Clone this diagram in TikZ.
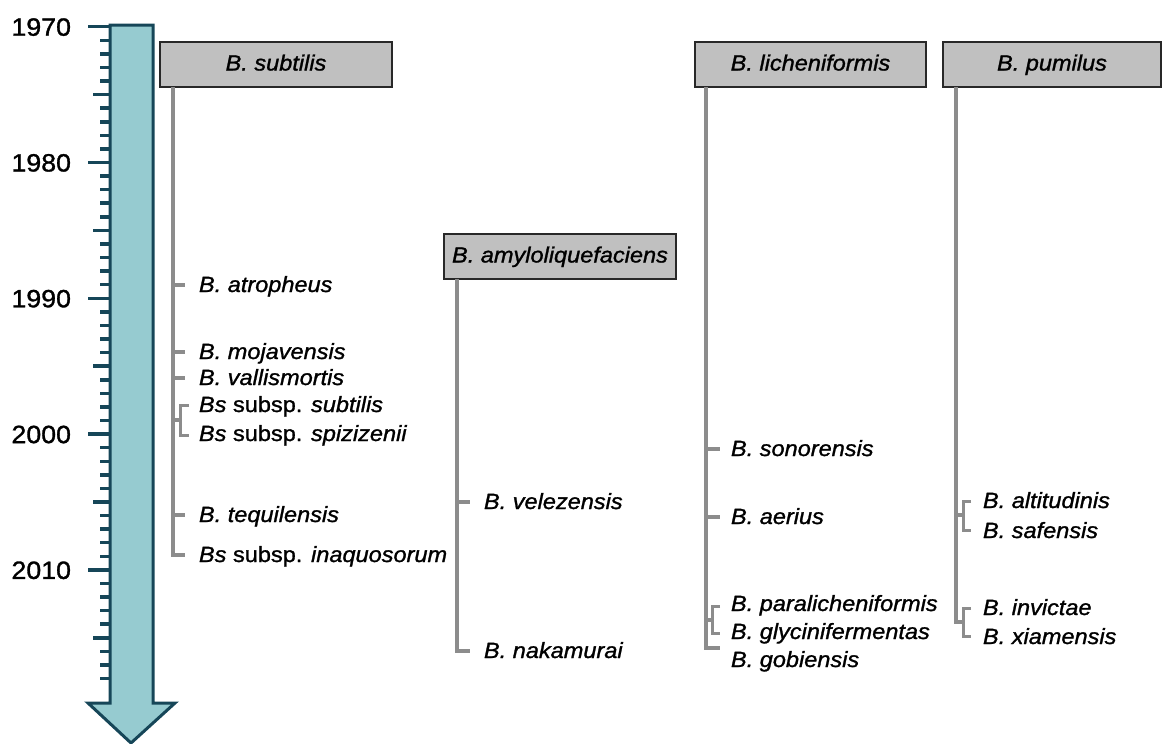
\documentclass[tikz,border=0pt]{standalone}
\usepackage{fontspec}
\setmainfont{Liberation Sans}[FakeStretch=1.07,FakeBold=1.2]
\begin{document}
\begin{tikzpicture}[x=1pt,y=-1pt,
  every node/.style={inner sep=0pt, outer sep=0pt},
  yearlbl/.style={anchor=east, font=\fontsize{25}{30}\selectfont, text height=18pt, text depth=0pt},
  spname/.style={anchor=west, font=\fontsize{22}{26}\selectfont\itshape, text height=16pt, text depth=4pt},
  groupbox/.style={draw=boxline, fill=boxfill, line width=2pt, minimum height=45pt, text height=16pt, text depth=4pt, font=\fontsize{22}{26}\selectfont\itshape},
  lineage/.style={draw=linegray, line width=3.5pt},
  bracketline/.style={draw=linegray, line width=3pt},
  ticklong/.style={draw=teal2, line width=3.5pt},
]
\definecolor{teal1}{RGB}{150,203,208}
\definecolor{teal2}{RGB}{22,70,88}
\definecolor{linegray}{RGB}{140,140,140}
\definecolor{boxfill}{RGB}{192,192,192}
\definecolor{boxline}{RGB}{40,40,40}
\useasboundingbox (0,0) rectangle (1163,744);

% time arrow
\draw[draw=teal2, fill=teal1, line width=3pt, line join=miter]
  (110,25) -- (153,25) -- (153,703) -- (175,703) -- (131,743) -- (88,703) -- (110,703) -- cycle;
\foreach \n in {0,...,48}{
  \pgfmathsetmacro{\yy}{26.7+13.58*\n}
  \pgfmathtruncatemacro{\md}{mod(\n,10)}
  \pgfmathtruncatemacro{\mf}{mod(\n,5)}
  \ifnum\md=0
    \draw[ticklong] (88,\yy) -- (110,\yy);
  \else\ifnum\mf=0
    \draw[ticklong] (93,\yy) -- (110,\yy);
  \else
    \draw[ticklong] (100,\yy) -- (110,\yy);
  \fi\fi
}
\node[yearlbl] (y1970) at (71,26.7) {1970};
\node[yearlbl] (y1980) at (71,162.5) {1980};
\node[yearlbl] (y1990) at (71,298.3) {1990};
\node[yearlbl] (y2000) at (71,434.1) {2000};
\node[yearlbl] (y2010) at (71,569.9) {2010};

% group boxes
\node[groupbox, minimum width=232pt] (subtilis) at (276,64.5) {B. subtilis};
\node[groupbox, minimum width=231pt] (lichen) at (810.5,64.5) {B. licheniformis};
\node[groupbox, minimum width=218pt] (pumilus) at (1052,64.5) {B. pumilus};
\node[groupbox, minimum width=232pt] (amylo) at (560,256.5) {B. amyloliquefaciens};

% ---------- B. subtilis group ----------
\node[spname] (atro) at (199,286) {B. atropheus};
\node[spname] (moja) at (199,353) {B. mojavensis};
\node[spname] (valli) at (199,379) {B. vallismortis};
\node[spname] (bssub) at (199,406) {Bs\upshape{} subsp. \itshape subtilis};
\node[spname] (bsspi) at (199,435) {Bs\upshape{} subsp. \itshape spizizenii};
\node[spname] (tequi) at (199,516) {B. tequilensis};
\node[spname] (inaq) at (199,556) {Bs\upshape{} subsp. \itshape inaquosorum};

\coordinate (s0) at (subtilis.south west -| 173,0);
\coordinate (s1) at (173,555);
\draw[lineage] (s0) -- (s1) -- (185,555);
\draw[lineage] (173,285) -- (185,285);
\draw[lineage] (173,352) -- (185,352);
\draw[lineage] (173,378) -- (185,378);
\draw[lineage] (173,515) -- (185,515);
\coordinate (sb) at (180,420);
\draw[lineage] (173,420) -- (sb);
\draw[bracketline] (189,405) -- (180,405) -- (180,435) -- (189,435);

% ---------- B. amyloliquefaciens group ----------
\node[spname] (vele) at (484,503) {B. velezensis};
\node[spname] (naka) at (484,652) {B. nakamurai};
\draw[lineage] (amylo.south west -| 457,0) -- (457,651) -- (470,651);
\draw[lineage] (457,502) -- (470,502);

% ---------- B. licheniformis group ----------
\node[spname] (sono) at (731,450) {B. sonorensis};
\node[spname] (aeri) at (731,518) {B. aerius};
\node[spname] (para) at (731,605) {B. paralicheniformis};
\node[spname] (glyc) at (731,633) {B. glycinifermentas};
\node[spname] (gobi) at (731,661) {B. gobiensis};
\draw[lineage] (lichen.south west -| 706,0) -- (706,648) -- (720,648);
\draw[lineage] (706,449) -- (720,449);
\draw[lineage] (706,517) -- (720,517);
\draw[lineage] (706,620) -- (712,620);
\draw[bracketline] (720,606) -- (712,606) -- (712,633) -- (720,633);

% ---------- B. pumilus group ----------
\node[spname] (alti) at (983,502) {B. altitudinis};
\node[spname] (safe) at (983,532) {B. safensis};
\node[spname] (invi) at (983,609) {B. invictae};
\node[spname] (xiam) at (983,638) {B. xiamensis};
\draw[lineage] (pumilus.south west -| 956,0) -- (956,622) -- (963,622);
\draw[lineage] (956,515) -- (963,515);
\draw[bracketline] (971,501) -- (963,501) -- (963,530) -- (971,530);
\draw[bracketline] (971,608) -- (963,608) -- (963,636) -- (971,636);
\end{tikzpicture}
\end{document}
